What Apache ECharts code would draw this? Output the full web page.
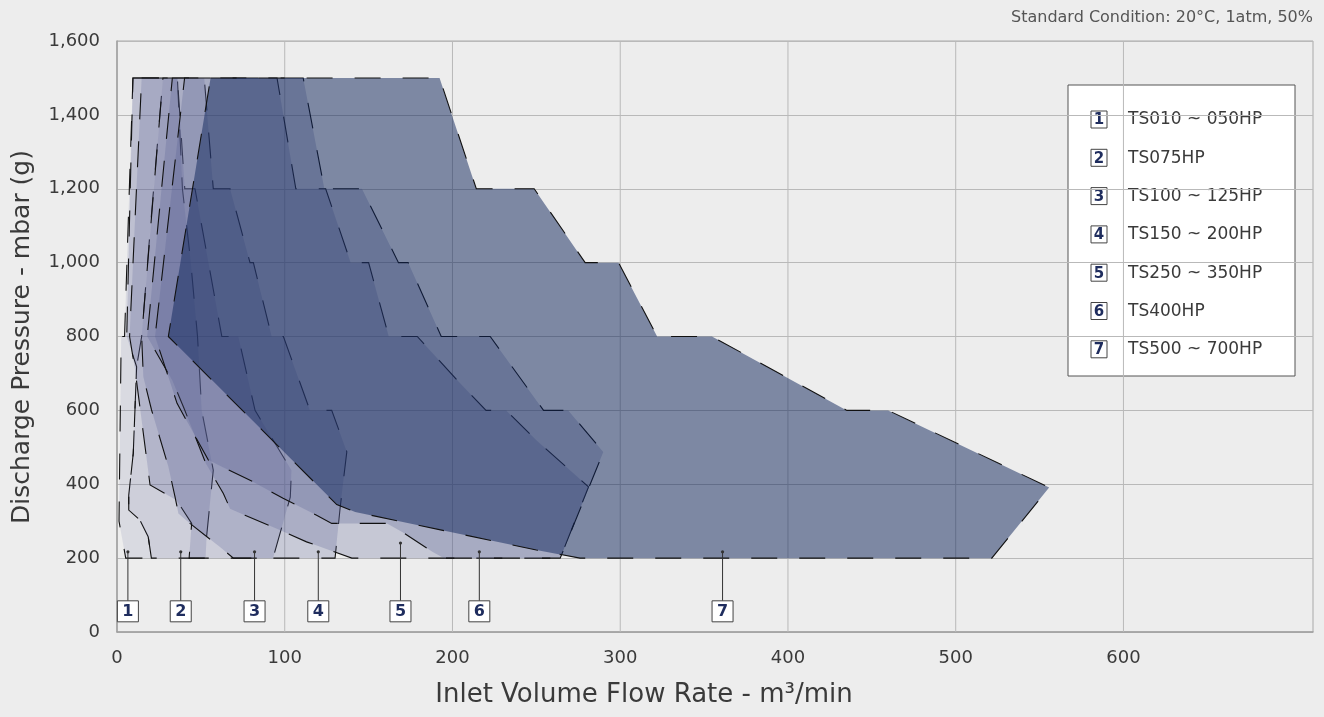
<!DOCTYPE html>
<html>
<head>
<meta charset="utf-8">
<script src="https://cdn.jsdelivr.net/npm/echarts@6/dist/echarts.min.js"></script>
<style>
html,body{margin:0;padding:0;background:#ededed;}
#chart{width:1324px;height:717px;}
</style>
</head>
<body>
<div id="chart"></div>
<script>
// ---------- data ----------
const xTicks = [0, 100, 200, 300, 400, 500, 600];
const xGridTicks = [100, 200, 300, 400, 500, 600];
const yTicks = [0, 200, 400, 600, 800, 1000, 1200, 1400, 1600];

const modelNames = ['TS010 ~ 050HP', 'TS075HP', 'TS100 ~ 125HP', 'TS150 ~ 200HP', 'TS250 ~ 350HP', 'TS400HP', 'TS500 ~ 700HP'];
const modelNumbers = ['1', '2', '3', '4', '5', '6', '7'];

// operating envelopes [flow m3/min, pressure mbar]
const ts010 = [[9.5,1500],[27.4,1500],[20,1100],[14.7,800],[11.7,718],[9.7,484],[7,370],[7,330],[13.7,303],[18.6,258],[20.5,200],[5.2,200],[3.8,235],[1.2,300],[2.5,800],[4.5,800]];
const ts075 = [[9.5,1500],[36,1500],[39,1200],[44,1000],[48,800],[50.5,600],[57.4,438],[53.4,258],[52.8,200],[20.5,200],[18.6,258],[13.7,303],[7,330],[7,370],[9.7,484],[11.7,718],[5.8,800]];
const ts100 = [[14.7,1500],[36,1500],[40.4,1200],[46.5,1200],[54.5,1000],[62.5,800],[72.3,800],[82.3,600],[104,438],[103.3,365],[93,200],[43,200],[44.5,294],[35.5,357],[19.7,398],[10.8,709],[7.5,800]];
const ts150 = [[27.4,1500],[52,1500],[57.4,1200],[67.4,1200],[79.3,1000],[81.3,1000],[92.2,800],[99.2,800],[115,600],[128,600],[137,488],[133,335],[130,200],[69.4,200],[61.4,230],[43.5,294],[36.6,321],[34.6,366],[30.6,448],[20.6,601],[15.7,691],[14.7,800]];
const ts250 = [[33,1500],[95.4,1500],[106.6,1200],[124.4,1200],[139.3,1000],[150,1000],[162,800],[179,800],[204,676],[220,600],[232,600],[250,519],[281.1,393],[264.2,200],[140,200],[113,244],[95,280],[76.3,316],[67.4,334],[63.4,375],[53,456],[40,605],[33,681],[18,800]];
const ts400 = [[40.3,1500],[111,1500],[123.6,1200],[146,1200],[167.8,1000],[173.6,1000],[193.3,800],[222.5,800],[254.3,600],[269,600],[289.9,487],[264.2,200],[195,200],[188,217],[170,271],[161,294],[128,294],[119,316],[99,362],[81,407],[60.4,452],[54.4,466],[35.8,619],[22.7,800]];
const ts500 = [[55.8,1500],[192.3,1500],[214.2,1200],[248.7,1200],[279.1,1000],[299,1000],[322,800],[354.7,800],[435.1,600],[459.7,600],[555.7,391],[521.5,200],[276,200],[250,222],[142,325],[131,345],[30.6,800]];

// callout labels: flow position and pressure where the leader starts
const calloutX = [6.5, 38, 82, 120, 169, 216, 361];
const calloutY = [217, 217, 217, 217, 241, 217, 217];
const calloutBoxY = 56;

// ---------- styles ----------
const envelopes = [ts010, ts075, ts100, ts150, ts250, ts400, ts500];
const envFill = [
  'rgba(85,92,145,0.13)',
  'rgba(85,92,145,0.2)',
  'rgba(85,92,145,0.22)',
  'rgba(85,92,145,0.24)',
  'rgba(85,92,145,0.25)',
  'rgba(85,92,145,0.27)',
  'rgba(13,35,89,0.5)'
];
const FONT = 'DejaVu Sans';
const NAVY = '#1f2d5e';
const TEXT = '#3a3a3a';

const chart = echarts.init(document.getElementById('chart'), null, {renderer: 'canvas'});

const series = [];

// vertical grid lines
series.push({
  type: 'custom', coordinateSystem: 'cartesian2d', silent: true, z: 1,
  data: xGridTicks.map(v => [v, 0]),
  renderItem: function (params, api) {
    const a = api.coord([api.value(0), 0]);
    const b = api.coord([api.value(0), 1600]);
    return {type: 'line', shape: {x1: a[0], y1: a[1], x2: b[0], y2: b[1]}, style: {stroke: '#b9b9b9', lineWidth: 1}};
  }
});

envelopes.forEach(function (poly, idx) {
  series.push({
    type: 'custom', coordinateSystem: 'cartesian2d', silent: true, z: 2 + idx,
    data: [poly[0]],
    renderItem: function (params, api) {
      const pts = poly.map(p => api.coord(p));
      return {
        type: 'polygon', shape: {points: pts},
        style: {fill: envFill[idx], stroke: '#111', lineWidth: 1.1, lineDash: [26, 22]}
      };
    }
  });
});

// callouts
series.push({
  type: 'custom', coordinateSystem: 'cartesian2d', silent: true, z: 20,
  data: calloutX.map((x, i) => [x, calloutY[i]]),
  renderItem: function (params, api) {
    const p = api.coord([api.value(0), api.value(1)]);
    const c = api.coord([api.value(0), calloutBoxY]);
    const w = 21, h = 21;
    return {
      type: 'group',
      children: [
        {type: 'line', shape: {x1: p[0], y1: p[1], x2: c[0], y2: c[1] - h / 2}, style: {stroke: '#333', lineWidth: 1}},
        {type: 'circle', shape: {cx: p[0], cy: p[1], r: 1.6}, style: {fill: '#333'}},
        {type: 'rect', shape: {x: c[0] - w / 2, y: c[1] - h / 2, width: w, height: h}, style: {fill: '#ffffff', stroke: '#444', lineWidth: 1}},
        {type: 'text', style: {x: c[0], y: c[1] + 1, text: modelNumbers[params.dataIndex], align: 'center', verticalAlign: 'middle', font: 'bold 16px "' + FONT + '"', fill: NAVY}}
      ]
    };
  }
});

// legend (graphic)
const legendChildren = [
  {type: 'rect', shape: {x: 0, y: 0, width: 227, height: 291}, style: {fill: '#ffffff', stroke: '#555', lineWidth: 1}}
];
modelNames.forEach(function (name, i) {
  const cy = 35 + i * 38.3;
  legendChildren.push({type: 'rect', shape: {x: 23, y: cy - 9, width: 16, height: 17}, style: {fill: '#fff', stroke: '#444', lineWidth: 1}});
  legendChildren.push({type: 'text', style: {x: 31, y: cy + 0.5, text: modelNumbers[i], align: 'center', verticalAlign: 'middle', font: 'bold 15px "' + FONT + '"', fill: NAVY}});
  legendChildren.push({type: 'text', style: {x: 60, y: cy, text: name, align: 'left', verticalAlign: 'middle', font: '17px "' + FONT + '"', fill: TEXT}});
});

const option = {
  backgroundColor: '#ededed',
  animation: false,
  grid: {left: 117, right: 11, top: 41, bottom: 85, show: true, borderColor: '#a9a9a9', borderWidth: 1, backgroundColor: 'transparent'},
  xAxis: {
    type: 'value', min: 0, max: 713, interval: 100,
    axisLine: {show: true, lineStyle: {color: '#a0a0a0', width: 1.5}},
    axisTick: {show: false},
    splitLine: {show: false},
    axisLabel: {
      margin: 17, color: TEXT, fontFamily: FONT, fontSize: 18, showMaxLabel: false,
      formatter: function (v) { return xTicks.indexOf(v) >= 0 ? String(v) : ''; }
    }
  },
  yAxis: {
    type: 'value', min: 0, max: 1600, interval: 200,
    axisLine: {show: true, lineStyle: {color: '#a0a0a0', width: 1.5}},
    axisTick: {show: false},
    splitLine: {show: true, lineStyle: {color: '#b9b9b9', width: 1}},
    axisLabel: {
      margin: 17, color: TEXT, fontFamily: FONT, fontSize: 18,
      formatter: function (v) { return yTicks.indexOf(v) >= 0 ? v.toLocaleString('en-US') : ''; }
    }
  },
  graphic: [
    {type: 'text', style: {x: 1313, y: 18, text: 'Standard Condition: 20°C, 1atm, 50%', align: 'right', verticalAlign: 'middle', font: '16px "' + FONT + '"', fill: '#555'}},
    {type: 'text', style: {x: 644, y: 695, text: 'Inlet Volume Flow Rate - m³/min', align: 'center', verticalAlign: 'middle', font: '26px "' + FONT + '"', fill: TEXT}},
    {type: 'text', rotation: Math.PI / 2, x: 22, y: 337, style: {x: 0, y: 0, text: 'Discharge Pressure - mbar (g)', align: 'center', verticalAlign: 'middle', font: '25px "' + FONT + '"', fill: TEXT}},
    {type: 'group', x: 1068, y: 85, children: legendChildren}
  ],
  series: series
};
chart.setOption(option);
</script>
</body>
</html>
